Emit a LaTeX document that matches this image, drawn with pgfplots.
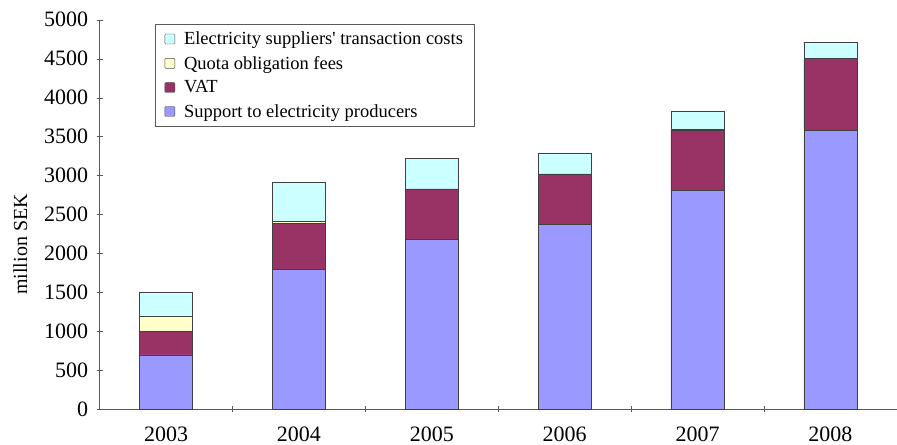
\documentclass[border=0pt]{standalone}
\usepackage{fontspec}
\setmainfont{Liberation Serif}
\usepackage{pgfplots}
\pgfplotsset{compat=1.18}
\definecolor{supp}{HTML}{9999FF}
\definecolor{vat}{HTML}{993366}
\definecolor{quota}{HTML}{FFFFCC}
\definecolor{trans}{HTML}{CCFFFF}
\begin{document}
\begin{tikzpicture}
\begin{axis}[
  scale only axis,
  width=798pt, height=390pt,
  ybar stacked,
  bar width=0.4,
  xmin=-0.5, xmax=5.5,
  ymin=0, ymax=5000,
  ytick={0,500,...,5000},
  xtick={0,...,5},
  xticklabels={2003,2004,2005,2006,2007,2008},
  minor xtick={0.5,1.5,2.5,3.5,4.5,5.5},
  major x tick style={draw=none},
  minor tick length=6pt,
  major tick length=6pt,
  tick align=outside,
  axis x line=bottom,
  axis y line=left,
  axis line style={gray!70!black, -},
  tick style={gray!70!black},
  /pgf/number format/1000 sep={},
  /pgf/number format/assume math mode=true,
  x tick label style={font=\fontsize{22}{24}\selectfont, yshift=-11pt},
  y tick label style={font=\fontsize{22}{24}\selectfont, xshift=-5pt},
  ylabel={million SEK},
  ylabel style={font=\fontsize{20}{22}\selectfont, yshift=10pt, xshift=-30pt},
  reverse legend,
  legend style={at={(0.07,0.99)}, anchor=north west, draw=gray!70!black,
    font=\fontsize{18.5}{21}\selectfont, inner xsep=9pt, inner ysep=6pt,
    row sep=6pt, cells={anchor=west}},
  legend image code/.code={\draw[#1, draw=black!70, rounded corners=1pt] (0pt,-5pt) rectangle (10pt,5pt); \path (17pt,0pt);},
]
\addplot+[fill=supp, draw=black!75] coordinates {(0,700) (1,1800) (2,2180) (3,2370) (4,2810) (5,3580)};
\addplot+[fill=vat, draw=black!75] coordinates {(0,300) (1,590) (2,650) (3,650) (4,770) (5,920)};
\addplot+[fill=quota, draw=black!75] coordinates {(0,200) (1,20) (2,0) (3,0) (4,20) (5,0)};
\addplot+[fill=trans, draw=black!75] coordinates {(0,300) (1,510) (2,390) (3,270) (4,230) (5,210)};
\legend{Support to electricity producers, VAT, Quota obligation fees, Electricity suppliers\textquotesingle\ transaction costs}
\end{axis}
\path (current bounding box.north) ++(0,9pt);
\path (current bounding box.west) ++(-10pt,0);
\end{tikzpicture}
\end{document}
